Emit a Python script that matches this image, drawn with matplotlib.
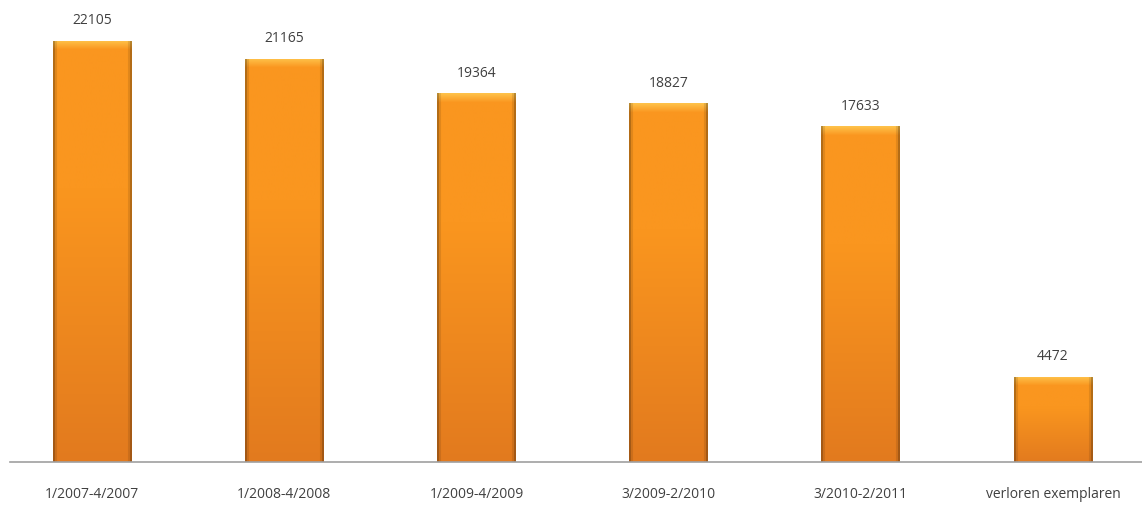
import numpy as np
import matplotlib.pyplot as plt
from matplotlib.colors import to_rgb

categories = ["1/2007-4/2007", "1/2008-4/2008", "1/2009-4/2009",
              "3/2009-2/2010", "3/2010-2/2011", "verloren exemplaren"]
values = [22105, 21165, 19364, 18827, 17633, 4472]

plt.rcParams["font.family"] = ["Open Sans", "DejaVu Sans"]

fig = plt.figure(figsize=(11.42, 5.10), dpi=100)
ax = fig.add_axes([10 / 1142, 47 / 510, 1132 / 1142, 463 / 510])

x = np.arange(len(categories))
bars = ax.bar(x, values, width=0.41, color="#F7931E", edgecolor="none")

ymax = 24300
px_per_unit = 463 / ymax


def bar_image(npx, ncol=78):
    # vertical: light yellow cap fading into orange, darker toward the bottom
    top = np.array(to_rgb("#FFC24A"))
    mid = np.array(to_rgb("#FA961F"))
    bot = np.array(to_rgb("#E27A1E"))
    rows = np.arange(npx)[:, None]
    t = np.clip(rows / 9.0, 0, 1)
    col = top * (1 - t) + mid * t
    f = np.clip((rows - npx * 0.35) / (npx * 0.65), 0, 1)
    col = col * (1 - f) + bot * f
    img = np.repeat(col[:, None, :], ncol, axis=1)
    # thin darker side edges
    cols = np.arange(ncol)
    d = np.minimum(cols, ncol - 1 - cols)
    shade = np.where(d < 2, 0.72, np.where(d < 4, 0.9, 1.0))
    img = img * shade[None, :, None]
    return np.clip(img, 0, 1)


for b in bars:
    x0, w, h = b.get_x(), b.get_width(), b.get_height()
    npx = max(int(h * px_per_unit), 10)
    im = ax.imshow(bar_image(npx), aspect="auto", extent=[x0, x0 + w, 0, h],
                   zorder=2, interpolation="bilinear")
    im.set_clip_path(b)
    ax.text(x0 + w / 2, h + 700, f"{int(h)}", ha="center", va="bottom",
            fontsize=10, color="#404040")

ax.set_xlim(-0.427, 5.463)
ax.set_ylim(0, ymax)
ax.set_xticks(x)
ax.set_xticklabels(categories, fontsize=10, color="#404040")
ax.tick_params(axis="x", length=0, pad=17)
ax.set_yticks([])
for s in ["top", "right", "left"]:
    ax.spines[s].set_visible(False)
ax.spines["bottom"].set_color("#A0A0A0")
ax.spines["bottom"].set_linewidth(1.2)

fig.savefig("out.png", dpi=100)
